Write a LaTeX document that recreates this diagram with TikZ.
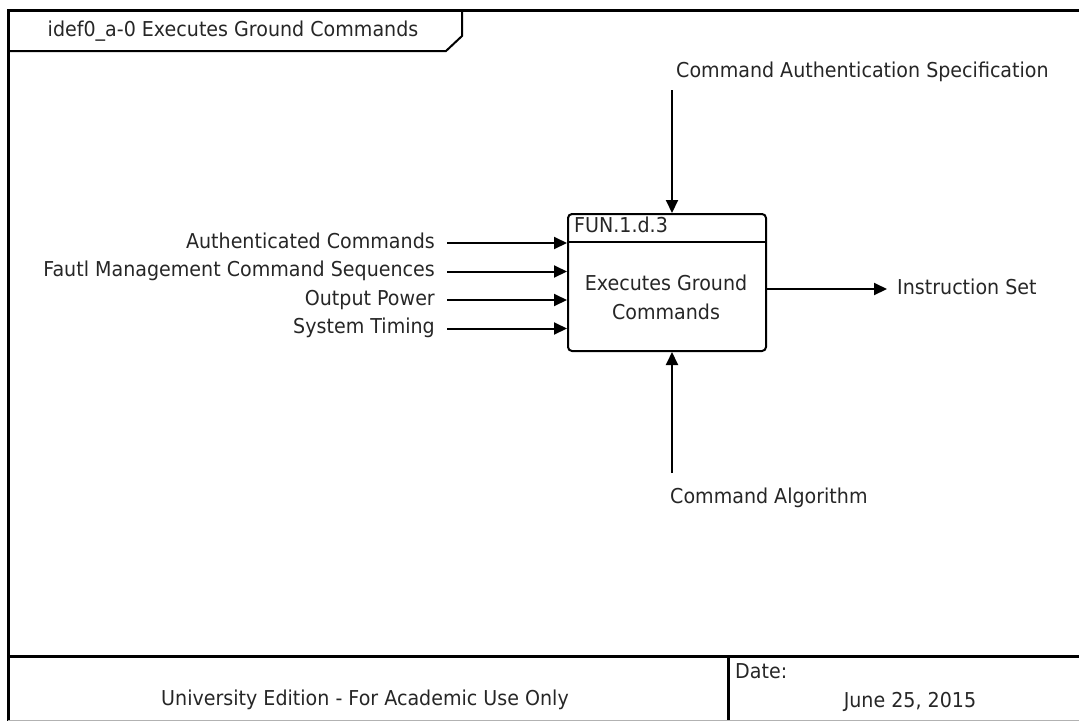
\documentclass[tikz,border=0pt]{standalone}
\usepackage{fontspec}
\setmainfont{DejaVu Sans}[FakeStretch=0.93]
\usetikzlibrary{arrows.meta}

\begin{document}
\begin{tikzpicture}[x=1pt, y=-1pt, >={Triangle[length=13pt,width=12pt]},
	every node/.style={font=\fontsize{20.5}{29}\selectfont, text=black!85, inner sep=0pt, text height=14pt, text depth=4pt},
	frame/.style={line width=3pt},
	flow/.style={->, line width=2pt}]
	
	\useasboundingbox (0,0) rectangle (1079,721);
	
	% ================= 外框与标题栏 =================
	\draw[frame] (1079,10) -- (8,10) -- (8,721);
	\draw[frame] (8,656) -- (1079,656);
	\draw[frame] (728,656) -- (728,721);
	\draw[thin, gray!60] (8,720) -- (1079,720);
	\draw[line width=2pt] (462,10) -- (462,36) -- (446,51) -- (8,51);
	\node (title) at (233,31) {idef0\_a-0 Executes Ground Commands};
	
	% 底部信息栏
	\node (edition) at (365,700) {University Edition - For Academic Use Only};
	\node[anchor=west] (datelbl) at (735,673) {Date:};
	\node (date) at (910,702) {June 25, 2015};
	
	% ================= 功能框 =================
	\node[draw, line width=2pt, rounded corners=4pt, minimum width=198pt, minimum height=137pt] (fun) at (667,282.5) {};
	\coordinate (hdr) at (0,242);
	\draw[line width=2pt] (fun.west |- hdr) -- (fun.east |- hdr);
	\node[anchor=west] (funid) at (574,227) {FUN.1.d.3};
	\node[align=center, text height=, text depth=] (funtxt) at (666,297) {Executes Ground\\Commands};
	
	% 输入 (左侧)
	\foreach \y/\txt/\nm in {243/Authenticated Commands/in1, 271.5/Fautl Management Command Sequences/in2, 300/Output Power/in3, 328.5/System Timing/in4}{
		\node[anchor=east] (\nm) at (435,\y) {\txt};
		\draw[flow] ([xshift=12pt]\nm.east) -- (\nm.east -| fun.west);
	}
	
	% 输出 (右侧)
	\node[anchor=west] (out) at (897,289) {Instruction Set};
	\draw[flow] (out.west -| fun.east) -- ([xshift=-10pt]out.west);
	
	% 控制 (上方) 与机制 (下方)
	\node[anchor=west] (ctrl) at (676,72) {Command Authentication Specification};
	\coordinate (ctrltop) at (672,90);
	\draw[flow] (ctrltop) -- (ctrltop |- fun.north);
	
	\node[anchor=west] (mech) at (670,498) {Command Algorithm};
	\coordinate (mechbot) at (672,473);
	\draw[flow] (mechbot) -- (mechbot |- fun.south);
	
\end{tikzpicture}
\end{document}
